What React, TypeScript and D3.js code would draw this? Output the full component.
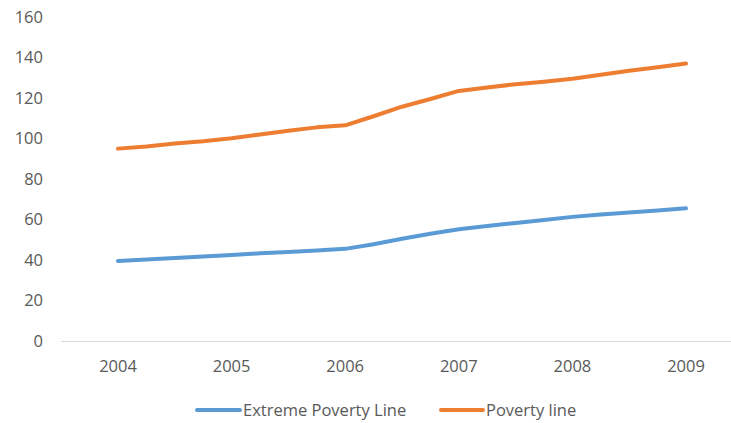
import React from "react";
import * as d3 from "d3";

const years = [2004, 2005, 2006, 2007, 2008, 2009];
const yTicks = [0, 20, 40, 60, 80, 100, 120, 140, 160];
const periods = [
  2004.0, 2004.25, 2004.5, 2004.75,
  2005.0, 2005.25, 2005.5, 2005.75,
  2006.0, 2006.25, 2006.5, 2006.75,
  2007.0, 2007.25, 2007.5, 2007.75,
  2008.0, 2008.25, 2008.5, 2008.75,
  2009.0,
];
const extremePoverty = [
  39.5, 40.3, 41.0, 41.7,
  42.5, 43.3, 44.0, 44.7,
  45.5, 47.8, 50.5, 53.0,
  55.2, 56.8, 58.3, 59.8,
  61.3, 62.5, 63.5, 64.4,
  65.5,
];
const poverty = [
  95.0, 96.0, 97.5, 98.6,
  100.1, 102.0, 103.8, 105.5,
  106.5, 111.0, 115.7, 119.5,
  123.5, 125.2, 126.8, 128.0,
  129.5, 131.5, 133.5, 135.2,
  137.0,
];
const seriesNames = ["Extreme Poverty Line", "Poverty line"];
const colors = ["#5B9BD5", "#ED7D31"];

const W = 731;
const H = 423;
const font = "'Open Sans', 'Noto Sans', sans-serif";
const textColor = "#595959";

export default function App() {
  const x = d3.scaleLinear().domain([2003.5, 2009.5]).range([61.2, 742.8]);
  const y = d3.scaleLinear().domain([0, 160]).range([341, 17]);
  const line = d3
    .line<[number, number]>()
    .x((d) => x(d[0]))
    .y((d) => y(d[1]))
    .curve(d3.curveLinear);
  const series = [extremePoverty, poverty];

  return (
    <svg
      width={W}
      height={H}
      style={{ position: "absolute", left: 0, top: 0, background: "#fff" }}
      fontFamily={font}
    >
      <rect width={W} height={H} fill="#fff" />
      {yTicks.map((t) => (
        <text
          key={t}
          x={43}
          y={y(t)}
          dy="0.35em"
          textAnchor="end"
          fontSize={16.5}
          fill={textColor}
        >
          {t}
        </text>
      ))}
      <line x1={x(2003.5)} x2={W} y1={y(0) + 0.5} y2={y(0) + 0.5} stroke="#d9d9d9" strokeWidth={1.2} />
      {years.map((yr) => (
        <text
          key={yr}
          x={x(yr)}
          y={366}
          dy="0.35em"
          textAnchor="middle"
          fontSize={16.5}
          fill={textColor}
        >
          {yr}
        </text>
      ))}
      {series.map((vals, i) => (
        <path
          key={i}
          d={line(periods.map((p, j) => [p, vals[j]] as [number, number])) || ""}
          fill="none"
          stroke={colors[i]}
          strokeWidth={4}
          strokeLinecap="round"
          strokeLinejoin="round"
        />
      ))}
      {/* legend */}
      <g>
        <line x1={197} x2={240} y1={410} y2={410} stroke={colors[0]} strokeWidth={4} strokeLinecap="round" />
        <text x={243} y={410} dy="0.35em" fontSize={16.5} fill={textColor}>
          {seriesNames[0]}
        </text>
        <line x1={441} x2={483} y1={410} y2={410} stroke={colors[1]} strokeWidth={4} strokeLinecap="round" />
        <text x={486} y={410} dy="0.35em" fontSize={16.5} fill={textColor}>
          {seriesNames[1]}
        </text>
      </g>
    </svg>
  );
}
